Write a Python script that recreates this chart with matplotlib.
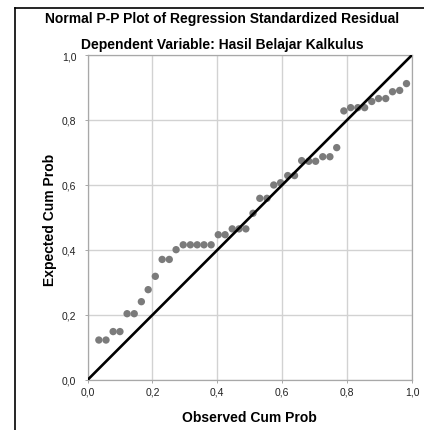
import matplotlib
matplotlib.use("Agg")
import matplotlib.pyplot as plt
from matplotlib.lines import Line2D

plt.rcParams['font.family'] = ['Liberation Sans', 'DejaVu Sans']

title1 = "Normal P-P Plot of Regression Standardized Residual"
title2 = "Dependent Variable: Hasil Belajar Kalkulus"
xlabel = "Observed Cum Prob"
ylabel = "Expected Cum Prob"
tick_values = [0.0, 0.2, 0.4, 0.6, 0.8, 1.0]
tick_labels = ["0,0", "0,2", "0,4", "0,6", "0,8", "1,0"]

observed = [0.035, 0.057, 0.079, 0.100, 0.122, 0.144, 0.166, 0.187, 0.209, 0.230,
            0.252, 0.273, 0.295, 0.317, 0.338, 0.359, 0.381, 0.403, 0.424, 0.446,
            0.467, 0.488, 0.510, 0.531, 0.553, 0.574, 0.595, 0.617, 0.638, 0.660,
            0.682, 0.703, 0.725, 0.747, 0.768, 0.790, 0.811, 0.833, 0.854, 0.876,
            0.897, 0.919, 0.940, 0.962, 0.983]
expected = [0.123, 0.123, 0.149, 0.149, 0.204, 0.204, 0.241, 0.278, 0.319, 0.371,
            0.371, 0.401, 0.416, 0.416, 0.416, 0.416, 0.416, 0.447, 0.447, 0.465,
            0.465, 0.465, 0.513, 0.559, 0.559, 0.600, 0.607, 0.629, 0.629, 0.675,
            0.673, 0.673, 0.687, 0.687, 0.715, 0.828, 0.838, 0.838, 0.838, 0.857,
            0.866, 0.866, 0.887, 0.891, 0.912]
ref_line = [0.0, 1.0]

W, H = 424, 431
fig = plt.figure(figsize=(W / 100, H / 100), dpi=100)
fig.patch.set_facecolor('white')

left, right, top, bottom = 87.5, 412, 56, 381
ax = fig.add_axes([left / W, 1 - bottom / H, (right - left) / W, (bottom - top) / H])
ax.set_xlim(0, 1)
ax.set_ylim(0, 1)
ax.set_xticks(tick_values)
ax.set_yticks(tick_values)
ax.set_xticklabels(tick_labels)
ax.set_yticklabels(tick_labels)
ax.grid(True, color='#d2d2d2', linewidth=1.0)
ax.set_axisbelow(True)
for s in ax.spines.values():
    s.set_color('#a8a8a8')
    s.set_linewidth(0.9)
ax.tick_params(axis='both', length=2, width=0.7, color='#a8a8a8',
               labelsize=7.5, labelcolor='#222222')
ax.tick_params(axis='x', pad=3)
ax.tick_params(axis='y', pad=6)

ax.scatter(observed, expected, s=28, color='#7b7b7b', edgecolors='none', zorder=3, clip_on=False)
ax.plot(ref_line, ref_line, color='black', linewidth=1.9, zorder=4, solid_capstyle='round')

fig.text(249 / W, 1 - 418 / H, xlabel, ha='center', va='center', fontsize=10, fontweight='bold')
fig.text(50 / W, 1 - 220 / H, ylabel, ha='center', va='center', rotation=90, fontsize=10, fontweight='bold')

fig.text(222.5 / W, 1 - 18.5 / H, title1, ha='center', va='center', fontsize=10, fontweight='bold')
fig.text(222 / W, 1 - 44.5 / H, title2, ha='center', va='center', fontsize=10, fontweight='bold')

# outer frame (left and top edges)
fig.add_artist(Line2D([15 / W, 15 / W], [0, 1 - 9 / H], color='black', linewidth=1.2, transform=fig.transFigure))
fig.add_artist(Line2D([15 / W, 1], [1 - 9 / H, 1 - 9 / H], color='black', linewidth=1.2, transform=fig.transFigure))

fig.savefig("out.png", dpi=100)
